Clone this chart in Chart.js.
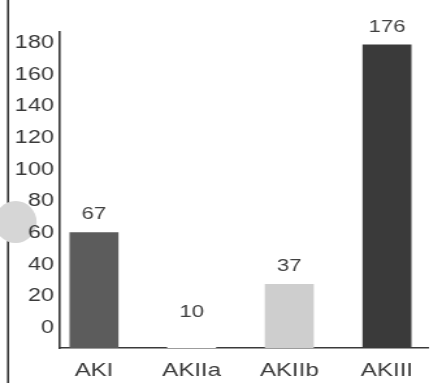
<!DOCTYPE html>
<html><head><meta charset="utf-8">
<script src="https://cdn.jsdelivr.net/npm/chart.js@4"></script>
<style>
html,body{margin:0;padding:0;background:#fff;overflow:hidden}
#wrap{width:337px;height:383px;transform:scaleX(1.3);transform-origin:0 0;}
canvas{display:block}
</style></head><body>
<div id="wrap"><canvas id="c" width="337" height="383"></canvas></div>
<script>
const categories = ['AKI', 'AKIIa', 'AKIIb', 'AKIII'];
const values = [67, 10, 37, 176];
const tickLabels = [0, 20, 40, 60, 80, 100, 120, 140, 160, 180];
const barColors = ['#5c5c5c', '#ffffff', '#cecece', '#3a3a3a'];

Chart.defaults.font.family = "'Liberation Sans', Arial, Helvetica, sans-serif";
Chart.defaults.color = '#3a3a3a';

const scanPlugin = {
  id: 'scan',
  beforeDraw(chart) {
    const ctx = chart.ctx;
    ctx.save();
    ctx.fillStyle = '#ffffff';
    ctx.fillRect(0, 0, chart.width, chart.height);
    ctx.strokeStyle = '#3a3a3a';
    ctx.lineWidth = 1.6;
    ctx.beginPath();
    ctx.moveTo(6.2, 0);
    ctx.lineTo(6.2, chart.height);
    ctx.stroke();
    ctx.fillStyle = '#d6d6d6';
    ctx.beginPath();
    ctx.ellipse(12, 222, 21 / 1.3, 21, 0, 0, Math.PI * 2);
    ctx.fill();
    ctx.restore();
  }
};

const valueLabels = {
  id: 'valueLabels',
  afterDatasetsDraw(chart) {
    const ctx = chart.ctx;
    const meta = chart.getDatasetMeta(0);
    ctx.save();
    ctx.font = "17px 'Liberation Sans', Arial, sans-serif";
    ctx.fillStyle = '#404040';
    ctx.textAlign = 'center';
    ctx.textBaseline = 'middle';
    meta.data.forEach((bar, i) => {
      ctx.fillText(String(values[i]), bar.x, bar.y - 18);
    });
    ctx.restore();
  }
};

new Chart(document.getElementById('c'), {
  type: 'bar',
  data: {
    datasets: [{
      data: values.map((v, i) => ({ x: i, y: v })),
      backgroundColor: barColors,
      borderWidth: 0,
      barThickness: 37,
      xAxisID: 'x',
      yAxisID: 'y'
    }]
  },
  options: {
    responsive: false,
    animation: false,
    layout: { padding: { top: 32, right: 8, bottom: 0, left: 0 } },
    plugins: { legend: { display: false }, tooltip: { enabled: false } },
    scales: {
      x: {
        type: 'linear',
        position: 'bottom',
        offset: false,
        min: -0.358,
        max: 3.417,
        grid: { display: false, drawTicks: false, offset: false },
        border: { display: true, color: '#3a3a3a', width: 1.6 },
        afterBuildTicks(scale) { scale.ticks = categories.map((_, i) => ({ value: i })); },
        afterFit(scale) { scale.height = 35; },
        ticks: {
          padding: 12,
          font: { size: 18.5 },
          color: '#3a3a3a',
          callback: (v) => categories[v]
        }
      },
      y: {
        type: 'linear',
        display: false,
        min: 0,
        max: 183.5
      },
      yTicks: {
        type: 'linear',
        position: 'left',
        min: -12.63,
        max: 186.95,
        grid: { display: false, drawTicks: false },
        border: { display: true, color: '#3a3a3a', width: 1.6 },
        afterBuildTicks(scale) { scale.ticks = tickLabels.map(v => ({ value: v })); },
        afterFit(scale) { scale.width = 45.4; },
        ticks: {
          padding: 4,
          font: { size: 18 },
          color: '#3a3a3a',
          callback: (v) => String(v)
        }
      }
    }
  },
  plugins: [scanPlugin, valueLabels]
});
</script>
</body></html>
